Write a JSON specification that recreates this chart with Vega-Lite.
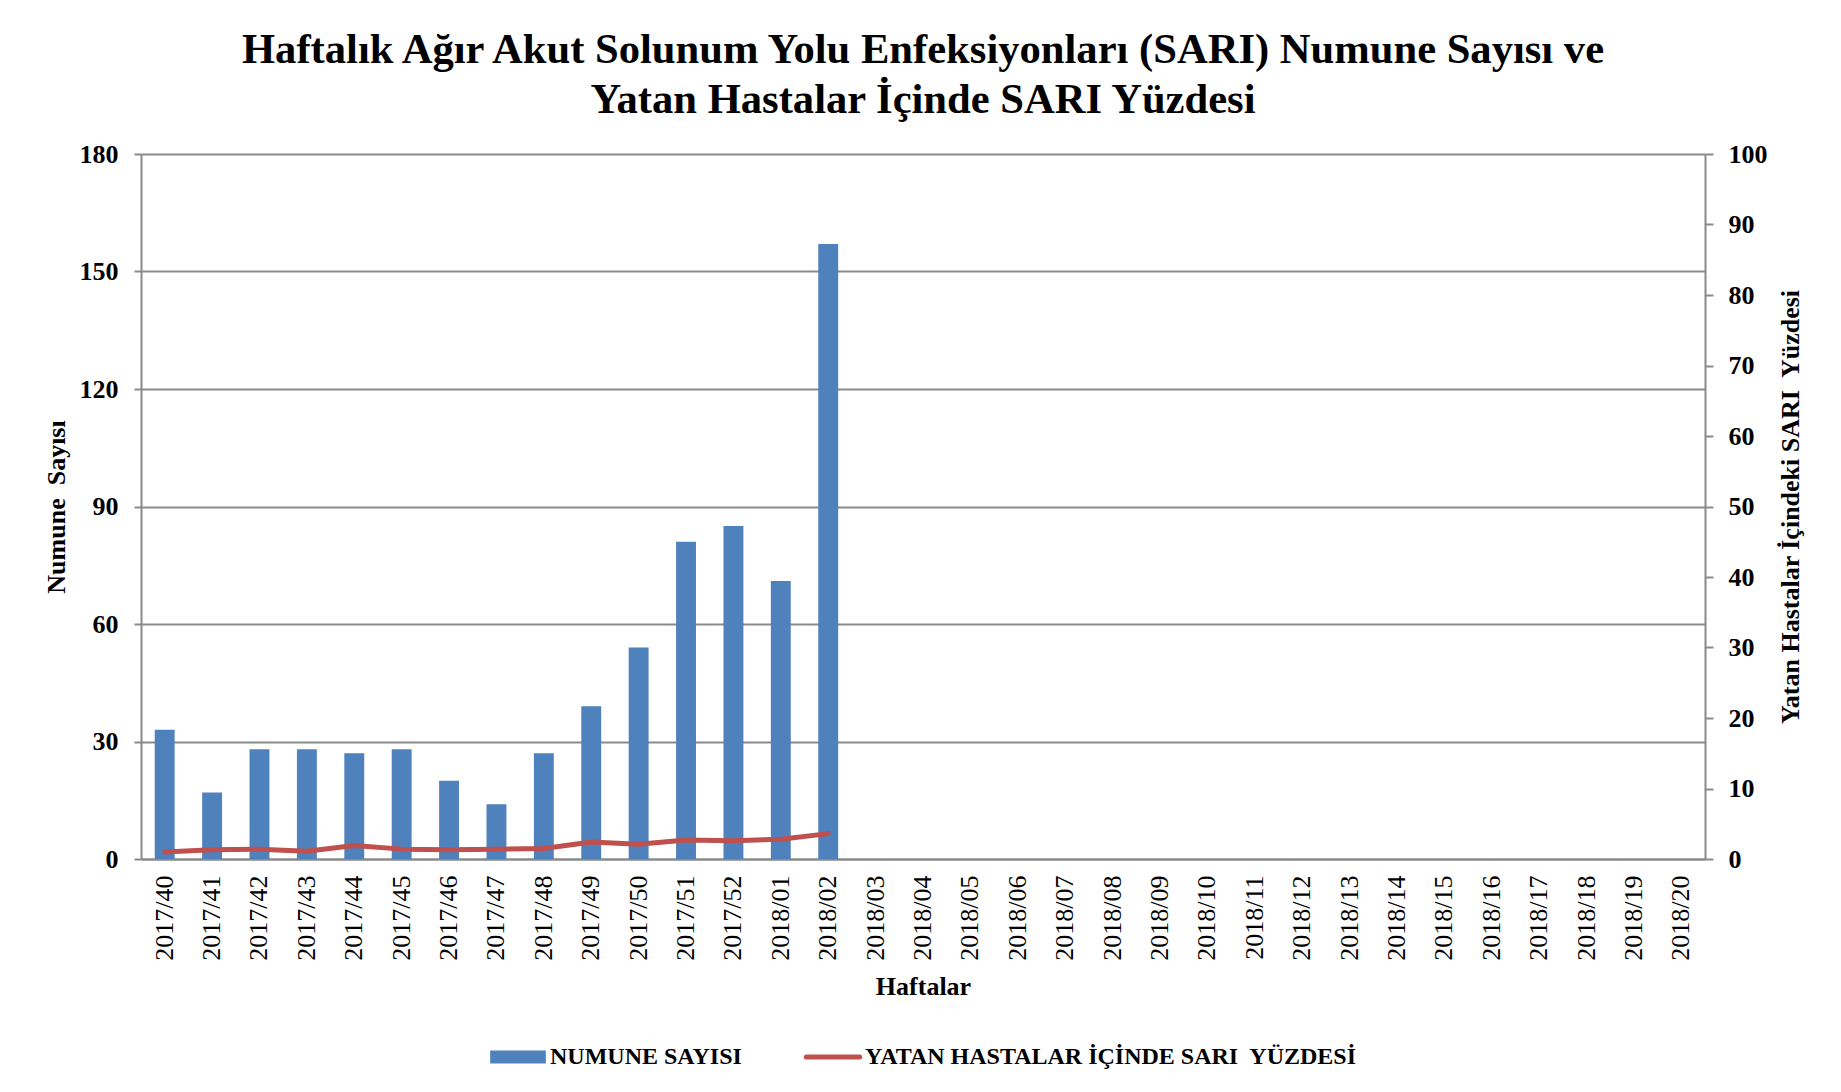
{
  "$schema": "https://vega.github.io/schema/vega-lite/v6.json",
  "autosize": {"type": "none"},
  "width": 1564,
  "height": 705,
  "padding": {"left": 141, "top": 154, "right": 136, "bottom": 233},
  "background": "white",
  "title": {
    "text": ["Haftalık Ağır Akut Solunum Yolu Enfeksiyonları (SARI) Numune Sayısı ve", "Yatan Hastalar İçinde SARI Yüzdesi"],
    "font": "Liberation Serif",
    "fontSize": 42.6,
    "fontWeight": "bold",
    "color": "black",
    "lineHeight": 50,
    "anchor": "middle",
    "baseline": "alphabetic",
    "offset": -15
  },
  "data": {
    "values": [
      {"hafta": "2017/40", "numune": 33, "yuzde": 1.0},
      {"hafta": "2017/41", "numune": 17, "yuzde": 1.3},
      {"hafta": "2017/42", "numune": 28, "yuzde": 1.4},
      {"hafta": "2017/43", "numune": 28, "yuzde": 1.1},
      {"hafta": "2017/44", "numune": 27, "yuzde": 1.9},
      {"hafta": "2017/45", "numune": 28, "yuzde": 1.4},
      {"hafta": "2017/46", "numune": 20, "yuzde": 1.3},
      {"hafta": "2017/47", "numune": 14, "yuzde": 1.4},
      {"hafta": "2017/48", "numune": 27, "yuzde": 1.5},
      {"hafta": "2017/49", "numune": 39, "yuzde": 2.4},
      {"hafta": "2017/50", "numune": 54, "yuzde": 2.1},
      {"hafta": "2017/51", "numune": 81, "yuzde": 2.7},
      {"hafta": "2017/52", "numune": 85, "yuzde": 2.6},
      {"hafta": "2018/01", "numune": 71, "yuzde": 2.8},
      {"hafta": "2018/02", "numune": 157, "yuzde": 3.6},
      {"hafta": "2018/03", "numune": null, "yuzde": null},
      {"hafta": "2018/04", "numune": null, "yuzde": null},
      {"hafta": "2018/05", "numune": null, "yuzde": null},
      {"hafta": "2018/06", "numune": null, "yuzde": null},
      {"hafta": "2018/07", "numune": null, "yuzde": null},
      {"hafta": "2018/08", "numune": null, "yuzde": null},
      {"hafta": "2018/09", "numune": null, "yuzde": null},
      {"hafta": "2018/10", "numune": null, "yuzde": null},
      {"hafta": "2018/11", "numune": null, "yuzde": null},
      {"hafta": "2018/12", "numune": null, "yuzde": null},
      {"hafta": "2018/13", "numune": null, "yuzde": null},
      {"hafta": "2018/14", "numune": null, "yuzde": null},
      {"hafta": "2018/15", "numune": null, "yuzde": null},
      {"hafta": "2018/16", "numune": null, "yuzde": null},
      {"hafta": "2018/17", "numune": null, "yuzde": null},
      {"hafta": "2018/18", "numune": null, "yuzde": null},
      {"hafta": "2018/19", "numune": null, "yuzde": null},
      {"hafta": "2018/20", "numune": null, "yuzde": null}
    ]
  },
  "encoding": {
    "x": {
      "field": "hafta",
      "type": "nominal",
      "sort": null,
      "scale": {
        "domain": ["2017/40","2017/41","2017/42","2017/43","2017/44","2017/45","2017/46","2017/47","2017/48","2017/49","2017/50","2017/51","2017/52","2018/01","2018/02","2018/03","2018/04","2018/05","2018/06","2018/07","2018/08","2018/09","2018/10","2018/11","2018/12","2018/13","2018/14","2018/15","2018/16","2018/17","2018/18","2018/19","2018/20"],
        "paddingInner": 0,
        "paddingOuter": 0
      },
      "axis": {
        "title": "Haftalar",
        "labelAngle": -90,
        "labelFont": "Liberation Serif",
        "labelFontSize": 26,
        "labelFontWeight": "normal",
        "labelColor": "black",
        "labelPadding": 16,
        "ticks": false,
        "domainColor": "#8a8a8a",
        "domainWidth": 2,
        "grid": false,
        "titleFont": "Liberation Serif",
        "titleFontSize": 26,
        "titleFontWeight": "bold",
        "titleColor": "black",
        "titlePadding": 13
      }
    }
  },
  "layer": [
    {
      "mark": {"type": "bar", "width": {"band": 0.42}, "color": "#4F81BD"},
      "encoding": {
        "y": {
          "field": "numune",
          "type": "quantitative",
          "scale": {"domain": [0, 180], "nice": false},
          "axis": {
            "orient": "left",
            "title": "Numune\u00a0 Sayısı",
            "values": [0, 30, 60, 90, 120, 150, 180],
            "grid": true,
            "gridColor": "#8a8a8a",
            "gridWidth": 2,
            "domainColor": "#8a8a8a",
            "domainWidth": 2,
            "tickColor": "#8a8a8a",
            "tickWidth": 2,
            "tickSize": 7,
            "labelPadding": 16,
            "labelFont": "Liberation Serif",
            "labelFontSize": 26,
            "labelFontWeight": "bold",
            "labelColor": "black",
            "titleFont": "Liberation Serif",
            "titleFontSize": 26,
            "titleFontWeight": "bold",
            "titleColor": "black",
            "titlePadding": 10
          }
        },
        "color": {
          "datum": "NUMUNE SAYISI",
          "scale": {
            "domain": ["NUMUNE SAYISI", "YATAN HASTALAR İÇİNDE SARI\u00a0 YÜZDESİ"],
            "range": ["#4F81BD", "#C0504D"]
          },
          "legend": {
            "orient": "none",
            "legendX": 365,
            "legendY": 891,
            "direction": "horizontal",
            "columns": 2,
            "title": null,
            "padding": 0,
            "labelFont": "Liberation Serif",
            "labelFontSize": 24,
            "labelFontWeight": "bold",
            "labelColor": "black",
            "labelOffset": 20,
            "columnPadding": 54,
            "symbolSize": 2704,
            "symbolStrokeWidth": 0,
            "labelLimit": 1000,
            "encode": {
              "symbols": {
                "update": {
                  "shape": {"signal": "datum.value === 'NUMUNE SAYISI' ? 'M-1.07,-0.25H1.07V0.25H-1.07Z' : 'M-1.03,0H1.03'"},
                  "fill": {"signal": "datum.value === 'NUMUNE SAYISI' ? '#4F81BD' : 'transparent'"},
                  "stroke": {"signal": "datum.value === 'NUMUNE SAYISI' ? 'transparent' : '#C0504D'"},
                  "strokeWidth": {"signal": "datum.value === 'NUMUNE SAYISI' ? 0 : 5"},
                  "strokeCap": {"value": "round"},
                  "opacity": {"value": 1}
                }
              }
            }
          }
        }
      }
    },
    {
      "mark": {"type": "line", "strokeWidth": 5, "strokeJoin": "round", "strokeCap": "round"},
      "encoding": {
        "y": {
          "field": "yuzde",
          "type": "quantitative",
          "scale": {"domain": [0, 100], "nice": false},
          "axis": {
            "orient": "right",
            "title": "Yatan Hastalar İçindeki SARI\u00a0 Yüzdesi",
            "titleAngle": -90,
            "values": [0, 10, 20, 30, 40, 50, 60, 70, 80, 90, 100],
            "grid": false,
            "domainColor": "#8a8a8a",
            "domainWidth": 2,
            "tickColor": "#8a8a8a",
            "tickWidth": 2,
            "tickSize": 8,
            "labelPadding": 15,
            "labelFont": "Liberation Serif",
            "labelFontSize": 26,
            "labelFontWeight": "bold",
            "labelColor": "black",
            "titleFont": "Liberation Serif",
            "titleFontSize": 26,
            "titleFontWeight": "bold",
            "titleColor": "black",
            "titlePadding": 36
          }
        },
        "color": {"datum": "YATAN HASTALAR İÇİNDE SARI\u00a0 YÜZDESİ"}
      }
    }
  ],
  "resolve": {"scale": {"y": "independent"}},
  "config": {
    "view": {"stroke": null}
  }
}
